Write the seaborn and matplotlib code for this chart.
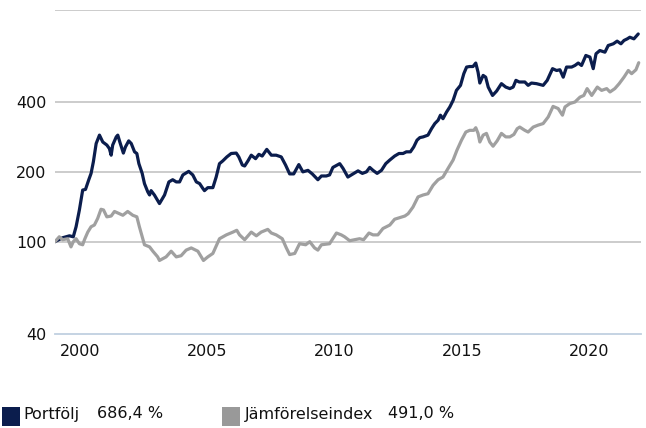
import matplotlib
matplotlib.use("Agg")
import matplotlib.pyplot as plt
import seaborn as sns
import pandas as pd
from matplotlib.patches import Rectangle
from matplotlib.ticker import FixedLocator, NullLocator, FixedFormatter

# index values (start = 100)
portfolio_years = [
    1999.00, 1999.30, 1999.57, 1999.72, 1999.83, 1999.96, 2000.09, 2000.20, 2000.33, 2000.42,
    2000.51, 2000.62, 2000.75, 2000.88, 2001.04, 2001.14, 2001.21, 2001.27, 2001.41, 2001.47,
    2001.56, 2001.69, 2001.77, 2001.90, 2002.00, 2002.13, 2002.22, 2002.30, 2002.43, 2002.52,
    2002.65, 2002.72, 2002.78, 2002.91, 2003.11, 2003.31, 2003.48, 2003.63, 2003.77, 2003.90,
    2004.03, 2004.26, 2004.42, 2004.56, 2004.69, 2004.81, 2004.88, 2005.01, 2005.21, 2005.34,
    2005.47, 2005.60, 2005.76, 2005.93, 2006.13, 2006.23, 2006.37, 2006.46, 2006.59, 2006.72,
    2006.89, 2007.02, 2007.15, 2007.33, 2007.51, 2007.70, 2007.90, 2008.07, 2008.23, 2008.39,
    2008.59, 2008.75, 2008.95, 2009.12, 2009.34, 2009.48, 2009.67, 2009.80, 2009.93, 2010.20,
    2010.33, 2010.52, 2010.72, 2010.92, 2011.09, 2011.25, 2011.38, 2011.51, 2011.67, 2011.84,
    2012.01, 2012.17, 2012.36, 2012.53, 2012.69, 2012.82, 2012.98, 2013.11, 2013.24, 2013.35,
    2013.48, 2013.67, 2013.81, 2013.94, 2014.07, 2014.16, 2014.26, 2014.40, 2014.53, 2014.66,
    2014.79, 2014.95, 2015.08, 2015.19, 2015.31, 2015.44, 2015.55, 2015.64, 2015.71, 2015.84,
    2015.94, 2016.04, 2016.21, 2016.37, 2016.56, 2016.73, 2016.89, 2017.02, 2017.13, 2017.26,
    2017.35, 2017.48, 2017.61, 2017.74, 2017.94, 2018.20, 2018.36, 2018.57, 2018.73, 2018.86,
    2018.99, 2019.12, 2019.32, 2019.45, 2019.58, 2019.71, 2019.88, 2020.04, 2020.17, 2020.28,
    2020.43, 2020.63, 2020.76, 2020.96, 2021.11, 2021.26, 2021.38, 2021.51, 2021.61, 2021.77,
    2021.94,
]
portfolio_values = [
    100, 104, 106, 105, 116, 137, 167, 168, 185, 197,
    221, 265, 288, 269, 261, 252, 236, 261, 283, 288,
    267, 241, 256, 272, 265, 244, 240, 217, 197, 178,
    164, 159, 166, 159, 146, 159, 181, 185, 181, 181,
    194, 201, 194, 181, 178, 170, 166, 171, 171, 190,
    217, 223, 232, 240, 241, 232, 214, 212, 223, 236,
    228, 238, 234, 250, 236, 236, 232, 214, 196, 196,
    215, 200, 203, 196, 185, 192, 192, 194, 209, 217,
    207, 190, 196, 202, 197, 200, 209, 203, 197, 203,
    217, 225, 234, 240, 240, 244, 244, 256, 274, 281,
    283, 288, 307, 323, 334, 351, 339, 362, 381, 407,
    449, 472, 530, 566, 569, 569, 589, 538, 483, 521,
    512, 464, 427, 446, 480, 464, 457, 464, 496, 488,
    488, 488, 472, 483, 480, 472, 496, 557, 547, 551,
    512, 566, 566, 575, 589, 575, 635, 625, 557, 646,
    667, 656, 701, 713, 732, 713, 737, 749, 761, 749,
    786,
]

benchmark_years = [
    1999.00, 1999.17, 1999.30, 1999.50, 1999.63, 1999.72, 1999.83, 1999.96, 2000.09, 2000.16,
    2000.29, 2000.42, 2000.55, 2000.68, 2000.81, 2000.91, 2001.04, 2001.21, 2001.34, 2001.54,
    2001.67, 2001.86, 2002.06, 2002.22, 2002.32, 2002.43, 2002.52, 2002.72, 2002.85, 2003.04,
    2003.11, 2003.37, 2003.57, 2003.77, 2003.96, 2004.16, 2004.36, 2004.62, 2004.84, 2005.01,
    2005.21, 2005.47, 2005.74, 2006.00, 2006.15, 2006.26, 2006.46, 2006.72, 2006.92, 2007.11,
    2007.37, 2007.51, 2007.70, 2007.94, 2008.10, 2008.23, 2008.43, 2008.62, 2008.86, 2009.02,
    2009.21, 2009.34, 2009.48, 2009.80, 2010.07, 2010.26, 2010.39, 2010.59, 2010.79, 2010.98,
    2011.14, 2011.35, 2011.51, 2011.70, 2011.90, 2012.17, 2012.36, 2012.56, 2012.76, 2012.89,
    2013.08, 2013.28, 2013.48, 2013.67, 2013.87, 2014.07, 2014.26, 2014.46, 2014.66, 2014.81,
    2014.99, 2015.16, 2015.31, 2015.47, 2015.55, 2015.64, 2015.71, 2015.84, 2015.97, 2016.10,
    2016.23, 2016.39, 2016.56, 2016.73, 2016.89, 2017.05, 2017.18, 2017.28, 2017.48, 2017.61,
    2017.81, 2018.00, 2018.20, 2018.40, 2018.59, 2018.79, 2018.96, 2019.06, 2019.25, 2019.45,
    2019.65, 2019.80, 2019.93, 2020.11, 2020.33, 2020.50, 2020.70, 2020.83, 2021.02, 2021.19,
    2021.38, 2021.55, 2021.68, 2021.85, 2021.96,
]
benchmark_values = [
    100, 105, 102, 103, 95, 100, 103, 98, 97, 102,
    110, 116, 118, 126, 138, 137, 128, 129, 135, 132,
    130, 135, 130, 128, 116, 105, 97, 95, 91, 86,
    83, 86, 91, 86, 87, 92, 94, 91, 83, 86,
    89, 103, 107, 110, 112, 107, 102, 110, 106, 110,
    113, 109, 107, 103, 94, 88, 89, 98, 97, 100,
    94, 92, 97, 98, 109, 107, 105, 101, 102, 103,
    102, 109, 107, 107, 114, 118, 125, 127, 129, 132,
    141, 156, 159, 161, 175, 185, 190, 207, 225, 248,
    274, 297, 302, 302, 310, 293, 269, 288, 293, 269,
    258, 272, 293, 283, 283, 290, 307, 312, 302, 297,
    312, 318, 323, 345, 383, 375, 351, 381, 394, 400,
    420, 427, 457, 427, 464, 449, 457, 442, 457, 480,
    512, 547, 530, 551, 591,
]

series_names = ["Portfölj", "Jämförelseindex"]
series_colors = ["#0b1d4d", "#a0a0a0"]
legend_values = ["686,4 %", "491,0 %"]

y_ticks = [40, 100, 200, 400, 1000]
y_labels = ["40", "100", "200", "400", ""]
x_ticks = [2000, 2005, 2010, 2015, 2020]

df = pd.concat([
    pd.DataFrame({"year": portfolio_years, "value": portfolio_values, "series": series_names[0]}),
    pd.DataFrame({"year": benchmark_years, "value": benchmark_values, "series": series_names[1]}),
])

sns.set_style("white")
plt.rcParams["font.family"] = ["DejaVu Sans"]

fig = plt.figure(figsize=(6.46, 4.28), dpi=100)
ax = fig.add_axes([0.0851, 0.2196, 0.9072, 0.7577])

sns.lineplot(data=df, x="year", y="value", hue="series", hue_order=series_names,
             palette=series_colors, linewidth=2.3, estimator=None, sort=False,
             legend=False, ax=ax)

ax.set_yscale("log")
ax.set_ylim(40, 1000)
ax.set_xlim(1999.0, 2022.05)
ax.yaxis.set_major_locator(FixedLocator(y_ticks))
ax.yaxis.set_major_formatter(FixedFormatter(y_labels))
ax.yaxis.set_minor_locator(NullLocator())
ax.set_xticks(x_ticks)
ax.set_xticklabels([str(t) for t in x_ticks])

for v in y_ticks[1:]:
    ax.axhline(v, color="#c8c8c8", linewidth=1.3, zorder=0)

for s in ["top", "right", "left"]:
    ax.spines[s].set_visible(False)
ax.spines["bottom"].set_color("#c0d0e0")
ax.spines["bottom"].set_linewidth(1.3)

ax.tick_params(axis="y", length=0, pad=6, labelsize=11.5, labelcolor="#111111")
ax.tick_params(axis="x", length=6, width=1.2, color="#c0d0e0", pad=1.5,
               labelsize=11.5, labelcolor="#111111")
ax.set_xlabel("")
ax.set_ylabel("")

# legend row below the chart
sq_y = 1 - 426 / 428
sq_h = 19 / 428
sq_w = 18 / 646
legend_x = [[2, 23, 97], [222, 245, 388]]
for (sx, tx, vx), name, col, val in zip(legend_x, series_names, series_colors, legend_values):
    fig.patches.append(Rectangle((sx / 646, sq_y), sq_w, sq_h, transform=fig.transFigure,
                                 facecolor="#999999" if col == "#a0a0a0" else col,
                                 edgecolor="none"))
    fig.text(tx / 646, 1 - 414 / 428, name, fontsize=11.5, va="center", ha="left", color="#111111")
    fig.text(vx / 646, 1 - 414 / 428, val, fontsize=11.5, va="center", ha="left", color="#111111")

fig.savefig("out.png", dpi=100)
